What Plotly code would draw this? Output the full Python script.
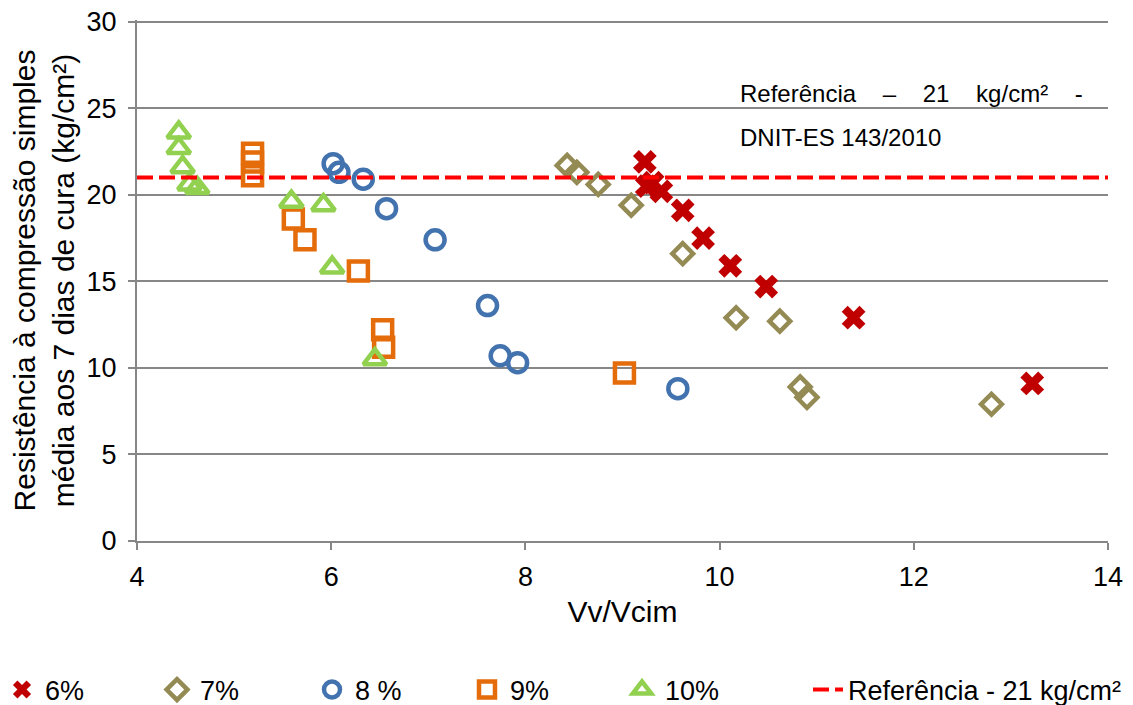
import plotly.graph_objects as go

# ---- data ----
x6 = [9.23, 9.25, 9.31, 9.40, 9.62, 9.83, 10.11, 10.48, 11.38, 13.22]
y6 = [21.9, 20.5, 20.7, 20.2, 19.1, 17.5, 15.9, 14.7, 12.9, 9.1]

x7 = [8.43, 8.53, 8.75, 9.09, 9.62, 10.17, 10.62, 10.83, 10.90, 12.80]
y7 = [21.7, 21.3, 20.6, 19.4, 16.6, 12.9, 12.7, 8.9, 8.3, 7.9]

x8 = [6.02, 6.08, 6.33, 6.57, 7.07, 7.61, 7.74, 7.92, 9.57]
y8 = [21.8, 21.3, 20.9, 19.2, 17.4, 13.6, 10.7, 10.3, 8.8]

x9 = [5.19, 5.19, 5.19, 5.61, 5.73, 6.28, 6.53, 6.54, 9.02]
y9 = [22.4, 21.9, 21.1, 18.6, 17.4, 15.6, 12.2, 11.2, 9.7]

x10 = [4.43, 4.43, 4.47, 4.54, 4.62, 5.59, 5.92, 6.01, 6.45]
y10 = [23.6, 22.7, 21.6, 20.6, 20.4, 19.6, 19.4, 15.8, 10.5]

ref_x = [4, 14]
ref_y = [21, 21]

names = ["6%", "7%", "8 %", "9%", "10%"]
ref_name = "Referência - 21 kg/cm²"
y_ticks = [0, 5, 10, 15, 20, 25, 30]
x_ticks = [4, 6, 8, 10, 12, 14]

FONT = "Liberation Sans, Arial, sans-serif"
GRID = "#878787"

# figure sits at an 8px body offset inside the 1133x705 window
W, H = 1125, 697
L, R, T, B = 129, 25, 12, 164
PW, PH = W - L - R, H - T - B

fig = go.Figure()

fig.add_trace(go.Scatter(x=x6, y=y6, mode="markers", name=names[0],
                         marker=dict(symbol="x", size=21, color="#C00000",
                                     line=dict(width=0))))
fig.add_trace(go.Scatter(x=x7, y=y7, mode="markers", name=names[1],
                         marker=dict(symbol="diamond-open", size=16, color="#948A54",
                                     line=dict(width=4.5, color="#948A54"))))
fig.add_trace(go.Scatter(x=x8, y=y8, mode="markers", name=names[2],
                         marker=dict(symbol="circle-open", size=19, color="#4373AE",
                                     line=dict(width=4.5, color="#4373AE"))))
fig.add_trace(go.Scatter(x=x9, y=y9, mode="markers", name=names[3],
                         marker=dict(symbol="square-open", size=19, color="#E46C0A",
                                     line=dict(width=4.5, color="#E46C0A"))))
fig.add_trace(go.Scatter(x=x10, y=y10, mode="markers", name=names[4],
                         marker=dict(symbol="triangle-up-open", size=20, color="#92D050",
                                     line=dict(width=4.5, color="#92D050"))))
fig.add_trace(go.Scatter(x=ref_x, y=ref_y, mode="lines", name=ref_name,
                         legend="legend2",
                         line=dict(color="#FF0000", width=4, dash="16px,6px")))

ann_x = (730 - L) / PW
fig.add_annotation(xref="paper", yref="paper", x=ann_x, y=(T + PH - 85) / PH,
                   xanchor="left", yanchor="middle", showarrow=False,
                   text="Referência    \u2013    21    kg/cm²    -",
                   font=dict(family=FONT, size=24, color="#000000"))
fig.add_annotation(xref="paper", yref="paper", x=ann_x, y=(T + PH - 129) / PH,
                   xanchor="left", yanchor="middle", showarrow=False,
                   text="DNIT-ES 143/2010",
                   font=dict(family=FONT, size=24, color="#000000"))

leg_y = (T + PH - 682) / PH
fig.update_layout(
    width=W, height=H,
    margin=dict(l=L, r=R, t=T, b=B, autoexpand=False),
    paper_bgcolor="white", plot_bgcolor="white",
    font=dict(family=FONT, size=27, color="#000000"),
    showlegend=True,
    legend=dict(orientation="h", x=(-9 - L) / PW, y=leg_y, xanchor="left", yanchor="middle",
                font=dict(family=FONT, size=27, color="#000000"), itemwidth=36,
                entrywidth=104, entrywidthmode="pixels", tracegroupgap=0),
    legend2=dict(orientation="h", x=(800 - L) / PW, y=leg_y, xanchor="left", yanchor="middle",
                 font=dict(family=FONT, size=27, color="#000000")),
    xaxis=dict(range=[4, 14], tickvals=x_ticks, showgrid=False, zeroline=False,
               showline=True, linecolor=GRID, linewidth=2, automargin=False,
               ticks="outside", ticklen=7, tickcolor=GRID, tickwidth=2,
               tickfont=dict(size=27), ticklabelstandoff=4,
               title=dict(text="Vv/Vcim", font=dict(size=30), standoff=10)),
    yaxis=dict(range=[0, 30.1], tickvals=y_ticks, showgrid=True, gridcolor=GRID, gridwidth=2,
               zeroline=False, showline=True, linecolor=GRID, linewidth=2, automargin=False,
               ticks="outside", ticklen=7, tickcolor=GRID, tickwidth=2,
               tickfont=dict(size=27), ticklabelstandoff=6, ticklabeloverflow="allow",
               title=dict(text="Resistência à compressão simples<br>média aos 7 dias de cura (kg/cm²)",
                          font=dict(size=30), standoff=8)),
)

fig.write_html("out.html")
